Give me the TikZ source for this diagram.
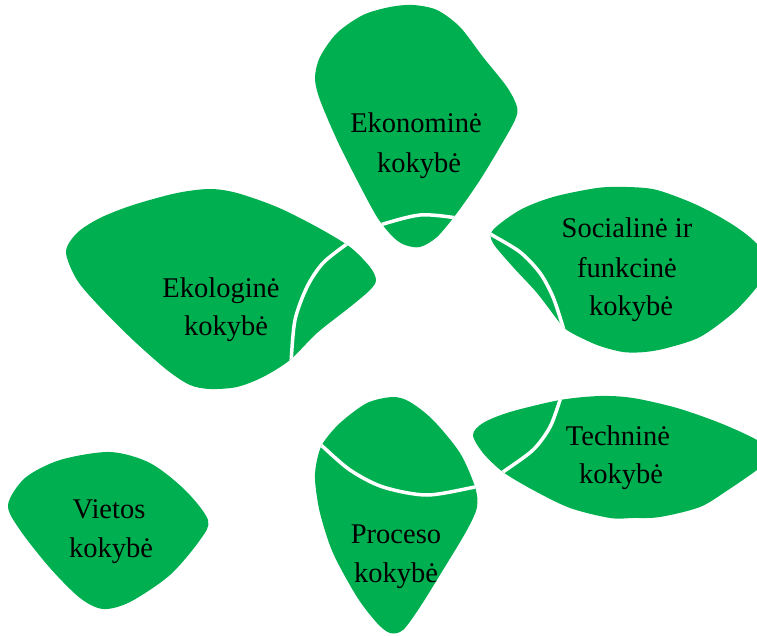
\documentclass[tikz,border=0pt]{standalone}
\usepackage{fontspec}
\setmainfont{Liberation Serif}
\definecolor{petal}{HTML}{00B050}
\newcommand\ekonpath{plot[smooth cycle] coordinates {(315,78) (320,57) (337,33) (363,15) (390,7) (413,5) (437,10) (460,27) (483,57) (507,87) (517,107) (515,120) (500,147) (480,180) (457,213) (437,237) (420,247) (405,245) (393,237) (377,217) (357,180) (337,140) (320,100)}}
\newcommand\ekolpath{plot[smooth cycle] coordinates {(66,252) (77,233) (100,218) (133,205) (177,193) (210,189) (237,193) (277,207) (317,227) (350,247) (370,267) (376,280) (370,290) (350,307) (317,333) (290,360) (263,377) (237,387) (210,389) (190,385) (167,370) (133,340) (100,307) (77,280)}}
\newcommand\socpath{plot[smooth cycle] coordinates {(493,230) (520,210) (553,197) (597,188) (627,187) (657,190) (697,205) (730,223) (753,240) (772,263) (757,287) (733,313) (700,337) (667,348) (645,352) (623,352) (597,345) (570,332) (560,323) (537,293) (513,267) (493,243)}}
\newcommand\procpath{plot[smooth cycle] coordinates {(393,397) (367,403) (340,423) (323,443) (317,460) (315,480) (320,513) (333,553) (357,597) (377,623) (390,633) (403,630) (420,607) (443,570) (467,530) (477,507) (475,487) (460,453) (433,420) (410,402)}}
\newcommand\techpath{plot[smooth cycle] coordinates {(473,435) (483,423) (510,412) (560,400) (600,396) (633,398) (677,408) (720,423) (757,440) (775,455) (757,470) (728,490) (700,507) (660,517) (633,518) (610,518) (570,508) (533,490) (503,472) (483,453)}}
\newcommand\vietpath{plot[smooth cycle] coordinates {(8,505) (25,478) (60,460) (110,452) (150,463) (185,490) (208,520) (200,540) (170,575) (130,602) (103,609) (80,598) (50,568) (20,530)}}
\begin{document}
\begin{tikzpicture}[x=1pt,y=-1pt,
  petalfill/.style={fill=petal, draw=none},
  cut/.style={draw=white, line width=3.5pt},
  lbl/.style={anchor=base, inner sep=0pt, font=\fontsize{28.5}{40}\selectfont, text=black}]
\useasboundingbox (0,0) rectangle (757,636);
\clip (0,0) rectangle (757,636);
% petals
\path[petalfill] \ekonpath;
\path[petalfill] \ekolpath;
\path[petalfill] \socpath;
\path[petalfill] \procpath;
\path[petalfill] \techpath;
\path[petalfill] \vietpath;
% white cuts
\begin{scope}
  \clip \ekonpath;
  \draw[cut] plot[smooth] coordinates {(370,230) (380,225) (420,215) (457,218) (468,222)};
\end{scope}
\begin{scope}
  \clip \ekolpath;
  \draw[cut] plot[smooth] coordinates {(356,236) (348,243) (323,263) (307,287) (295,320) (291,363) (291,372)};
\end{scope}
\begin{scope}
  \clip \socpath;
  \draw[cut] plot[smooth] coordinates {(484,230) (492,235) (520,252) (540,273) (553,297) (563,327) (565,336)};
\end{scope}
\begin{scope}
  \clip \procpath;
  \draw[cut] plot[smooth] coordinates {(314,439) (321,445) (350,470) (383,487) (427,495) (475,487) (485,485)};
\end{scope}
\begin{scope}
  \clip \techpath;
  \draw[cut] plot[smooth] coordinates {(562,392) (560,400) (550,427) (533,450) (503,472) (495,478)};
\end{scope}
% labels
\node[lbl] (ekon1) at (416,133) {Ekonominė};
\node[lbl] (ekon2) at (419,173) {kokybė};
\node[lbl] (ekol1) at (221,297) {Ekologinė};
\node[lbl] (ekol2) at (226,335) {kokybė};
\node[lbl] (soc1) at (627,238) {Socialinė ir};
\node[lbl] (soc2) at (627,277) {funkcinė};
\node[lbl] (soc3) at (631,315) {kokybė};
\node[lbl] (proc1) at (396,543) {Proceso};
\node[lbl] (proc2) at (396,582) {kokybė};
\node[lbl] (tech1) at (618,445) {Techninė};
\node[lbl] (tech2) at (621,483) {kokybė};
\node[lbl] (viet1) at (109,518) {Vietos};
\node[lbl] (viet2) at (111,557) {kokybė};
\end{tikzpicture}
\end{document}
